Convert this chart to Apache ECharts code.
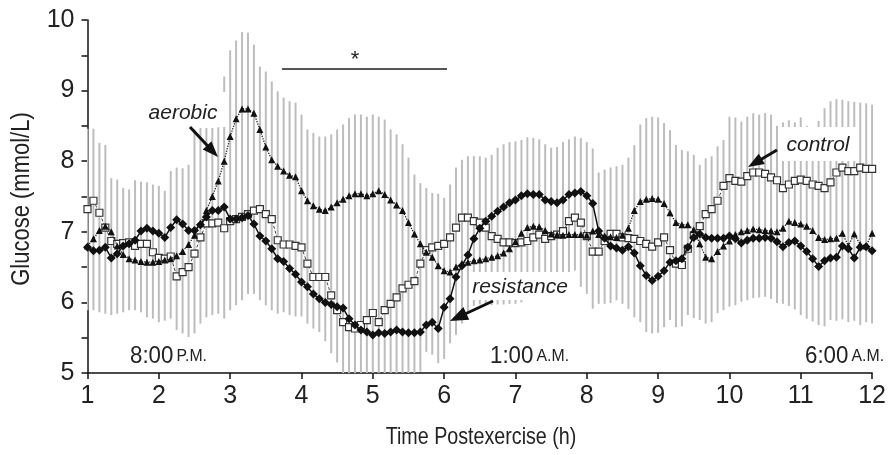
<!DOCTYPE html>
<html>
<head>
<meta charset="utf-8">
<script src="https://cdn.jsdelivr.net/npm/echarts@6/dist/echarts.min.js"></script>
<style>
html,body{margin:0;padding:0;background:#fff;}
#chart{width:889px;height:455px;}
</style>
</head>
<body>
<div id="chart"></div>
<script>
// Time grid: every 5 minutes from 1 h to 12 h after exercise
const hours = Array.from({length: 133}, (_, k) => 1 + k / 12);

// Glucose (mmol/L)
const resistance = [
 6.78,6.73,6.74,6.78,6.63,6.69,6.80,6.83,6.88,7.01,
 7.05,7.01,6.98,6.92,7.06,7.17,7.11,7.02,7.02,7.10,
 7.21,7.30,7.30,7.35,7.18,7.18,7.20,7.23,7.11,6.94,
 6.87,6.76,6.62,6.58,6.48,6.40,6.29,6.22,6.12,6.05,
 6.00,5.97,5.94,5.92,5.77,5.68,5.61,5.58,5.54,5.57,
 5.56,5.58,5.61,5.58,5.57,5.57,5.58,5.68,5.72,5.63,
 5.93,6.05,6.36,6.52,6.67,6.90,7.05,7.15,7.22,7.29,
 7.35,7.41,7.45,7.51,7.54,7.53,7.53,7.45,7.43,7.41,
 7.45,7.53,7.55,7.57,7.51,7.40,7.01,6.91,6.80,6.77,
 6.74,6.79,6.70,6.52,6.38,6.31,6.37,6.45,6.57,6.59,
 6.62,6.78,6.92,6.97,6.92,6.91,6.91,6.91,6.94,6.90,
 6.84,6.88,6.91,6.91,6.92,6.91,6.86,6.79,6.85,6.87,
 6.80,6.72,6.62,6.51,6.59,6.63,6.64,6.80,6.76,6.63,
 6.78,6.79,6.73
];
const control = [
 7.32,7.44,7.27,7.06,6.87,6.83,6.84,6.85,6.80,6.83,
 6.83,6.71,6.63,6.62,6.65,6.37,6.43,6.50,6.69,6.92,
 7.12,7.12,7.13,7.05,7.15,7.18,7.21,7.25,7.30,7.32,
 7.25,7.18,6.88,6.82,6.82,6.80,6.78,6.55,6.36,6.36,
 6.36,6.10,5.89,5.72,5.65,5.63,5.68,5.75,5.85,5.72,
 5.89,5.98,6.07,6.20,6.25,6.30,6.55,6.74,6.78,6.80,
 6.83,6.92,7.06,7.20,7.20,7.15,7.13,7.06,6.94,6.90,
 6.85,6.85,6.84,6.85,6.87,6.92,6.96,6.90,6.94,6.96,
 7.01,7.15,7.20,7.13,6.94,6.72,6.72,6.87,6.97,6.97,
 6.92,6.91,6.90,6.87,6.83,6.79,6.85,6.92,6.74,6.55,
 6.53,6.76,6.95,7.08,7.25,7.32,7.44,7.65,7.76,7.72,
 7.71,7.79,7.84,7.84,7.82,7.77,7.73,7.62,7.67,7.72,
 7.74,7.72,7.67,7.65,7.62,7.70,7.84,7.91,7.86,7.86,
 7.91,7.89,7.89
];
const aerobic = [
 6.80,6.90,7.02,7.08,7.00,6.80,6.68,6.62,6.60,6.58,
 6.57,6.57,6.58,6.60,6.62,6.66,6.72,6.82,6.95,7.12,
 7.30,7.50,7.72,8.00,8.35,8.60,8.74,8.74,8.68,8.45,
 8.20,8.02,7.93,7.86,7.80,7.78,7.58,7.44,7.37,7.32,
 7.30,7.35,7.41,7.46,7.51,7.54,7.54,7.51,7.54,7.58,
 7.53,7.45,7.38,7.30,7.13,6.97,6.83,6.71,6.64,6.52,
 6.45,6.43,6.50,6.55,6.57,6.59,6.60,6.62,6.64,6.66,
 6.70,6.76,6.86,6.98,7.06,7.08,7.07,7.02,6.97,6.96,
 6.95,6.96,6.96,6.96,6.95,7.01,6.96,6.94,6.93,6.92,
 6.95,7.05,7.30,7.43,7.46,7.47,7.46,7.40,7.27,7.13,
 7.10,7.10,7.03,6.83,6.64,6.62,6.72,6.80,6.87,6.96,
 7.00,7.02,7.04,7.03,7.02,7.01,7.00,7.05,7.15,7.13,
 7.11,7.08,7.02,6.92,6.89,6.90,6.91,6.98,6.80,6.97,
 6.82,6.80,6.98
];
// Error bar extents (mmol/L)
const barHigh = [
 8.46,8.46,8.26,8.23,7.76,7.74,7.62,7.60,7.73,7.71,
 7.70,7.67,7.65,7.58,7.86,7.91,7.90,7.95,8.45,8.47,
 8.47,8.47,8.48,9.20,9.57,9.71,9.83,9.82,9.65,9.34,
 9.27,9.13,8.99,8.90,8.85,8.83,8.66,8.45,8.40,8.35,
 8.35,8.38,8.45,8.52,8.61,8.66,8.66,8.63,8.66,8.63,
 8.59,8.45,8.38,8.24,8.05,7.81,7.69,7.62,7.55,7.54,
 7.48,7.67,7.91,8.02,8.07,8.07,8.07,8.05,8.09,8.19,
 8.24,8.27,8.28,8.30,8.34,8.33,8.31,8.24,8.19,8.20,
 8.27,8.31,8.35,8.33,8.27,8.18,7.84,7.88,7.91,7.93,
 7.95,8.05,8.23,8.52,8.61,8.63,8.62,8.54,8.44,8.23,
 8.16,8.14,8.09,7.95,8.04,8.07,8.21,8.30,8.63,8.62,
 8.56,8.63,8.68,8.66,8.68,8.66,8.50,8.55,8.58,8.55,
 8.62,8.50,8.47,8.57,8.75,8.85,8.88,8.87,8.85,8.84,
 8.83,8.82,8.80
];
const barLow = [
 5.89,5.89,5.86,5.84,5.82,5.84,5.86,5.89,5.89,5.86,
 5.79,5.77,5.72,5.74,5.77,5.61,5.56,5.51,5.56,5.70,
 5.79,5.82,5.84,5.77,5.89,5.96,6.03,6.12,6.12,6.03,
 5.96,5.89,5.84,5.86,5.82,5.80,5.80,5.70,5.63,5.58,
 5.45,5.28,5.15,5.00,5.00,5.00,5.00,5.00,5.00,5.00,
 5.00,5.00,5.00,5.00,5.00,5.00,5.02,5.30,5.26,5.14,
 5.20,5.42,5.54,5.70,5.85,5.95,5.97,5.96,5.96,5.97,
 5.97,5.98,5.98,6.00,6.10,6.20,6.25,6.25,6.30,6.30,
 6.35,6.40,6.45,6.22,6.12,5.91,5.98,5.98,5.99,6.03,
 5.98,5.91,5.79,5.72,5.58,5.56,5.57,5.65,5.75,5.65,
 5.66,5.82,5.78,5.75,5.70,5.72,5.85,5.89,5.94,5.96,
 6.01,6.03,6.06,6.07,6.08,6.05,5.99,5.98,5.95,5.90,
 5.82,5.77,5.73,5.68,5.66,5.75,5.74,5.76,5.72,5.74,
 5.68,5.72,5.70
];
const xTicks = [1,2,3,4,5,6,7,8,9,10,11,12];
const yTicks = [5,6,7,8,9,10];
const xTitle = 'Time Postexercise (h)';
const yTitle = 'Glucose (mmol/L)';

const pair = arr => hours.map((t, i) => [t, arr[i]]);
const FONT = '"Liberation Sans", Arial, sans-serif';

const chart = echarts.init(document.getElementById('chart'), null, {renderer: 'canvas'});

function arrow(x1, y1, x2, y2, len, half) {
  const dx = x2 - x1, dy = y2 - y1, d = Math.hypot(dx, dy);
  const ux = dx / d, uy = dy / d;
  const bx = x2 - ux * len, by = y2 - uy * len;
  return [
    {type: 'line', z: 20, shape: {x1: x1, y1: y1, x2: bx + ux * 2, y2: by + uy * 2},
     style: {stroke: '#111', lineWidth: 3}},
    {type: 'polygon', z: 20, shape: {points: [[x2, y2], [bx - uy * half, by + ux * half], [bx + uy * half, by - ux * half]]},
     style: {fill: '#111'}}
  ];
}

const clockRich = {
  a: {fontSize: 24, fontFamily: FONT, fill: '#222'},
  b: {fontSize: 17, fontFamily: FONT, fill: '#222'}
};

const option = {
  animation: false,
  backgroundColor: '#fff',
  grid: {left: 87.5, right: 14, top: 20, bottom: 82, containLabel: false},
  xAxis: {
    type: 'value', min: 1, max: 12, interval: 1,
    axisLine: {show: true, onZero: false, lineStyle: {color: '#111', width: 1.5}},
    axisTick: {show: true, inside: false, length: 6, lineStyle: {color: '#111', width: 1.5}},
    axisLabel: {fontSize: 25, color: '#222', fontFamily: FONT, margin: 11,
      formatter: v => xTicks.includes(v) ? String(v) : ''},
    splitLine: {show: false}
  },
  yAxis: {
    type: 'value', min: 5, max: 10, interval: 0.5,
    axisLine: {show: true, lineStyle: {color: '#111', width: 1.5}},
    axisTick: {show: true, inside: false, length: 6, lineStyle: {color: '#111', width: 1.5}},
    axisLabel: {fontSize: 25, color: '#222', fontFamily: FONT, margin: 13,
      formatter: v => yTicks.includes(v) ? String(v) : ''},
    splitLine: {show: false}
  },
  series: [
    {
      type: 'custom', name: 'SD', z: 1, clip: true,
      data: hours.map((t, i) => [t, barLow[i], barHigh[i]]),
      encode: {x: 0, y: [1, 2]},
      renderItem: function (params, api) {
        const t = api.value(0);
        const p1 = api.coord([t, api.value(1)]);
        const p2 = api.coord([t, api.value(2)]);
        return {type: 'line', shape: {x1: p1[0], y1: p1[1], x2: p2[0], y2: p2[1]},
          style: {stroke: '#bdbdbd', lineWidth: 2}};
      }
    },
    {
      type: 'line', name: 'control', z: 5, data: pair(control),
      symbol: 'rect', symbolSize: 7, showSymbol: true,
      lineStyle: {color: '#444', width: 1, type: [3, 2]},
      itemStyle: {color: '#fff', borderColor: '#333', borderWidth: 1.2}
    },
    {
      type: 'line', name: 'aerobic', z: 6, data: pair(aerobic),
      symbol: 'triangle', symbolSize: 7, showSymbol: true,
      lineStyle: {color: '#222', width: 1.3, type: 'dotted'},
      itemStyle: {color: '#111'}
    },
    {
      type: 'line', name: 'resistance', z: 7, data: pair(resistance),
      symbol: 'diamond', symbolSize: 9, showSymbol: true,
      lineStyle: {color: '#111', width: 1.5},
      itemStyle: {color: '#111'}
    }
  ],
  graphic: [
    // axis titles (slightly condensed)
    {type: 'text', z: 20, x: 481, y: 437, scaleX: 0.82,
     style: {text: xTitle, font: '24px ' + FONT, fill: '#222', align: 'center', verticalAlign: 'middle'}},
    {type: 'text', z: 20, x: 22, y: 199, rotation: Math.PI / 2, scaleX: 0.88,
     style: {text: yTitle, font: '25px ' + FONT, fill: '#222', align: 'center', verticalAlign: 'middle'}},
    // white label boxes that hide the error bars behind the labels
    {type: 'rect', z: 2, shape: {x: 140, y: 92, width: 88, height: 35}, style: {fill: '#fff'}},
    {type: 'rect', z: 2, shape: {x: 778, y: 127, width: 80, height: 34}, style: {fill: '#fff'}},
    {type: 'rect', z: 2, shape: {x: 471, y: 272, width: 107, height: 28}, style: {fill: '#fff'}},
    {type: 'text', z: 20, x: 183, y: 113, style: {text: 'aerobic', font: 'italic 21px ' + FONT, fill: '#222', align: 'center', verticalAlign: 'middle'}},
    {type: 'text', z: 20, x: 818, y: 145, style: {text: 'control', font: 'italic 21px ' + FONT, fill: '#222', align: 'center', verticalAlign: 'middle'}},
    {type: 'text', z: 20, x: 520, y: 287, style: {text: 'resistance', font: 'italic 21px ' + FONT, fill: '#222', align: 'center', verticalAlign: 'middle'}},
    ...arrow(190, 127, 218, 157, 16, 6),
    ...arrow(777, 150, 748, 167, 16, 6),
    ...arrow(493, 301, 450, 321, 18, 7),
    // significance bar
    {type: 'line', z: 20, shape: {x1: 282, y1: 69, x2: 447, y2: 69}, style: {stroke: '#555', lineWidth: 2}},
    {type: 'text', z: 20, x: 355, y: 60, style: {text: '*', font: '22px ' + FONT, fill: '#222', align: 'center', verticalAlign: 'middle'}},
    // clock time labels
    {type: 'text', z: 20, x: 130, y: 356, scaleX: 0.93, style: {text: '{a|8:00} {b|P.M.}', verticalAlign: 'middle', rich: clockRich}},
    {type: 'text', z: 20, x: 490, y: 356, scaleX: 0.93, style: {text: '{a|1:00} {b|A.M.}', verticalAlign: 'middle', rich: clockRich}},
    {type: 'text', z: 20, x: 805, y: 356, scaleX: 0.93, style: {text: '{a|6:00} {b|A.M.}', verticalAlign: 'middle', rich: clockRich}}
  ]
};
chart.setOption(option);
</script>
</body>
</html>
